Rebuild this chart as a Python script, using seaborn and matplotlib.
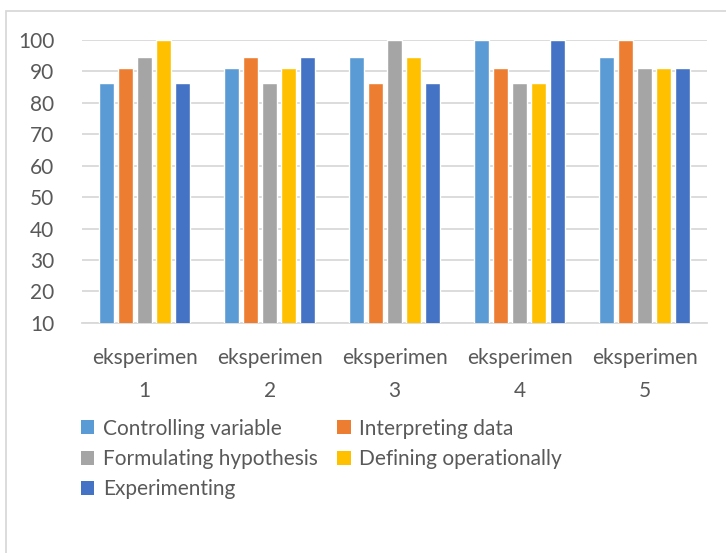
import matplotlib
matplotlib.use('Agg')
import matplotlib.pyplot as plt
from matplotlib.patches import Rectangle, Patch
import seaborn as sns
import pandas as pd

sns.set_style("white")
plt.rcParams['font.family'] = ['Lato', 'DejaVu Sans']

categories = ['eksperimen\n1', 'eksperimen\n2', 'eksperimen\n3', 'eksperimen\n4', 'eksperimen\n5']
skills = ['Controlling variable', 'Interpreting data', 'Formulating hypothesis',
          'Defining operationally', 'Experimenting']
controlling = [86.4, 90.9, 94.5, 100, 94.5]
interpreting = [90.9, 94.5, 86.4, 90.9, 100]
formulating = [94.5, 86.4, 100, 86.4, 90.9]
defining = [100, 90.9, 94.5, 86.4, 90.9]
experimenting = [86.4, 94.5, 86.4, 100, 90.9]
yticks = [10, 20, 30, 40, 50, 60, 70, 80, 90, 100]

colors = ['#5B9BD5', '#ED7D31', '#A5A5A5', '#FFC000', '#4472C4']
text_color = '#595959'

rows = []
for skill, vals in zip(skills, [controlling, interpreting, formulating, defining, experimenting]):
    for cat, v in zip(categories, vals):
        rows.append({'cat': cat, 'skill': skill, 'value': v})
df = pd.DataFrame(rows)

fig = plt.figure(figsize=(7.26, 5.53), dpi=100)
ax = fig.add_axes([0.113, 0.416, 0.861, 0.512])

# bars start from the axis floor at 10, like the excel chart
sns.barplot(data=df, x='cat', y='value', hue='skill', hue_order=skills,
            palette=colors, width=0.76, gap=0.2, bottom=0, ax=ax,
            legend=False, saturation=1, zorder=3)

ax.set_ylim(10, 100)
ax.set_yticks(yticks)
ax.set_xlim(-0.5, 4.5)
ax.yaxis.grid(True, color='#D9D9D9', linewidth=1.3, zorder=0)
ax.set_axisbelow(True)
for s in ['top', 'right', 'left']:
    ax.spines[s].set_visible(False)
ax.spines['bottom'].set_color('#D9D9D9')
ax.spines['bottom'].set_linewidth(1.3)
ax.set_xlabel('')
ax.set_ylabel('')
ax.tick_params(axis='both', length=0, labelsize=15, colors=text_color)
ax.tick_params(axis='x', pad=18)
ax.tick_params(axis='y', pad=20)
for lab in ax.get_xticklabels():
    lab.set_linespacing(1.8)

# excel fills the legend row by row, matplotlib column by column
patches = [Patch(facecolor=c, edgecolor='none', label=s) for c, s in zip(colors, skills)]
handles = [patches[0], patches[2], patches[4], patches[1], patches[3]]
leg = fig.legend(handles=handles, loc='upper left', bbox_to_anchor=(0.1, 0.258), ncol=2,
                 frameon=False, fontsize=15, handlelength=0.65, handleheight=0.65,
                 handletextpad=0.4, columnspacing=0.95, labelspacing=0.5,
                 borderaxespad=0)
for t in leg.get_texts():
    t.set_color(text_color)

# chart area border
fig.patches.append(Rectangle((6 / 726, -0.05), 1.1, 1 - 11 / 553 + 0.05, transform=fig.transFigure,
                             fill=False, edgecolor='#D9D9D9', linewidth=1.3))

fig.savefig('out.png', dpi=100)
plt.close()
